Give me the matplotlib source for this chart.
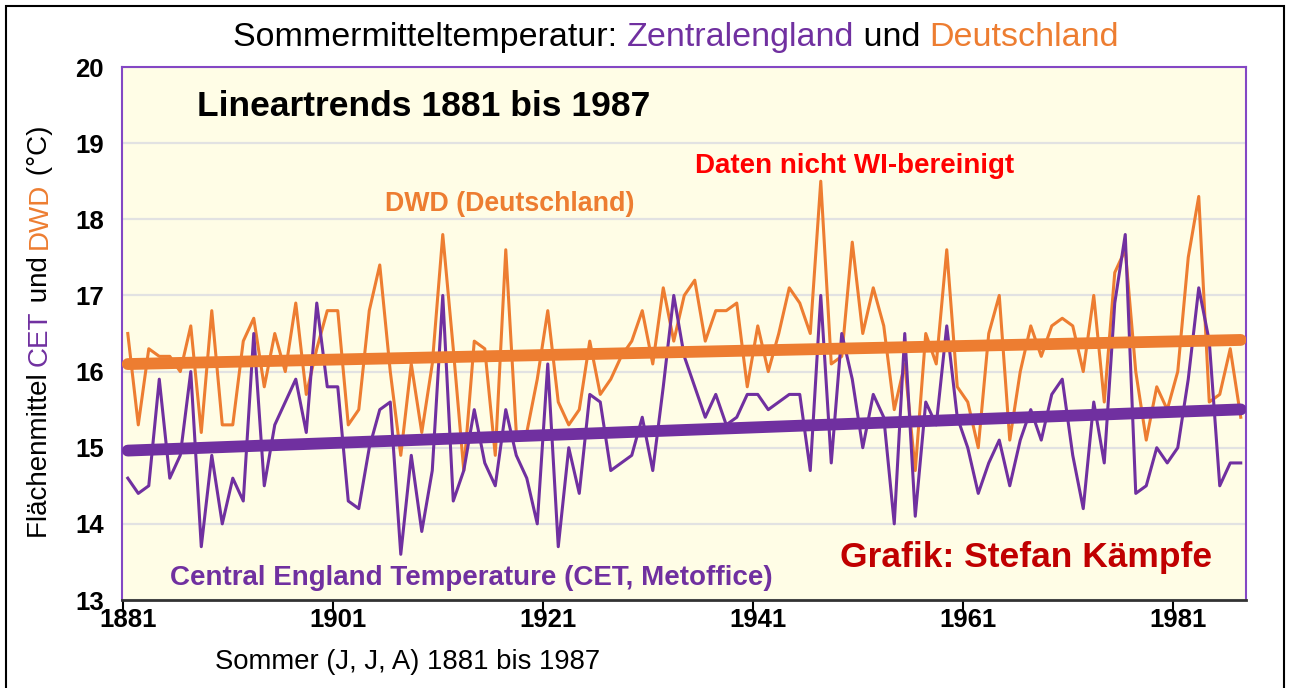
import numpy as np
import matplotlib
matplotlib.use('Agg')
import matplotlib.pyplot as plt
from matplotlib.transforms import IdentityTransform
from matplotlib.patches import Rectangle

plt.rcParams['font.family'] = ['Liberation Sans', 'DejaVu Sans']

# Sommer (JJA) 1881-1987
years = np.arange(1881, 1988)

# DWD Deutschland (°C)
dwd = [16.5, 15.3, 16.3, 16.2, 16.2, 16.0, 16.6, 15.2, 16.8, 15.3,
       15.3, 16.4, 16.7, 15.8, 16.5, 16.0, 16.9, 15.7, 16.3, 16.8,
       16.8, 15.3, 15.5, 16.8, 17.4, 16.0, 14.9, 16.1, 15.2, 16.1,
       17.8, 16.3, 14.7, 16.4, 16.3, 14.9, 17.6, 15.2, 15.2, 15.9,
       16.8, 15.6, 15.3, 15.5, 16.4, 15.7, 15.9, 16.2, 16.4, 16.8,
       16.1, 17.1, 16.4, 17.0, 17.2, 16.4, 16.8, 16.8, 16.9, 15.8,
       16.6, 16.0, 16.5, 17.1, 16.9, 16.5, 18.5, 16.1, 16.2, 17.7,
       16.5, 17.1, 16.6, 15.5, 16.1, 14.7, 16.5, 16.1, 17.6, 15.8,
       15.6, 15.0, 16.5, 17.0, 15.1, 16.0, 16.6, 16.2, 16.6, 16.7,
       16.6, 16.0, 17.0, 15.6, 17.3, 17.6, 16.0, 15.1, 15.8, 15.5,
       16.0, 17.5, 18.3, 15.6, 15.7, 16.3, 15.4]

# Central England Temperature (°C)
cet = [14.6, 14.4, 14.5, 15.9, 14.6, 14.9, 16.0, 13.7, 14.9, 14.0,
       14.6, 14.3, 16.5, 14.5, 15.3, 15.6, 15.9, 15.2, 16.9, 15.8,
       15.8, 14.3, 14.2, 15.0, 15.5, 15.6, 13.6, 14.9, 13.9, 14.7,
       17.0, 14.3, 14.7, 15.5, 14.8, 14.5, 15.5, 14.9, 14.6, 14.0,
       16.1, 13.7, 15.0, 14.4, 15.7, 15.6, 14.7, 14.8, 14.9, 15.4,
       14.7, 15.8, 17.0, 16.2, 15.8, 15.4, 15.7, 15.3, 15.4, 15.7,
       15.7, 15.5, 15.6, 15.7, 15.7, 14.7, 17.0, 14.8, 16.5, 15.9,
       15.0, 15.7, 15.4, 14.0, 16.5, 14.1, 15.6, 15.3, 16.6, 15.4,
       15.0, 14.4, 14.8, 15.1, 14.5, 15.1, 15.5, 15.1, 15.7, 15.9,
       14.9, 14.2, 15.6, 14.8, 16.9, 17.8, 14.4, 14.5, 15.0, 14.8,
       15.0, 15.9, 17.1, 16.4, 14.5, 14.8, 14.8]

tick_years = [1881, 1901, 1921, 1941, 1961, 1981]
y_ticks = [13, 14, 15, 16, 17, 18, 19, 20]

PURPLE = '#7030A0'
ORANGE = '#ED7D31'

W, H = 1290, 688
fig = plt.figure(figsize=(W / 100, H / 100), dpi=100)
fig.patch.set_facecolor('white')
ax = fig.add_axes([122 / W, 1 - 600 / H, 1124 / W, 533 / H])
ax.set_facecolor('#FFFDE6')

ax.plot(years, dwd, color=ORANGE, lw=2.2, zorder=3)
ax.plot(years, cet, color=PURPLE, lw=2.2, zorder=3)

# lineare Trends
ends = years[[0, -1]]
for vals, col in [(dwd, ORANGE), (cet, PURPLE)]:
    k = np.polyfit(years, vals, 1)
    ax.plot(ends, np.polyval(k, ends), color=col, lw=8.5,
            solid_capstyle='round', zorder=4)

ax.set_xlim(1880.45, 1987.5)
ax.set_ylim(13, 20)
ax.set_yticks(y_ticks)
ax.set_yticklabels([str(v) for v in y_ticks])
ax.set_xticks(tick_years)
ax.set_xticklabels([str(v) for v in tick_years])
ax.set_xticks([t - 0.5 for t in tick_years], minor=True)
ax.tick_params(axis='x', which='major', length=0, pad=6, labelsize=18.5)
ax.tick_params(axis='x', which='minor', length=7, width=1.5, color='black')
ax.tick_params(axis='y', length=0, pad=13, labelsize=18.5)
for lab in ax.get_xticklabels() + ax.get_yticklabels():
    lab.set_fontweight('bold')

ax.grid(axis='y', color='#E2E2E2', lw=1.6, zorder=0)
for s in ['left', 'top', 'right']:
    ax.spines[s].set_color('#8447C4')
    ax.spines[s].set_linewidth(1.5)
ax.spines['bottom'].set_color('#333333')
ax.spines['bottom'].set_linewidth(2)

# Rahmen
fig.add_artist(Rectangle((6 / W, -0.05), 1278 / W, 1.05 - 6 / H,
                         transform=fig.transFigure, fill=False,
                         edgecolor='black', lw=1.5))

renderer = fig.canvas.get_renderer()


def text_width(s, size, weight):
    t = fig.text(0, 0, s, fontsize=size, fontweight=weight)
    w = t.get_window_extent(renderer).width
    t.remove()
    return w


def colored_text(parts, cx, cy, size, weight='normal', vertical=False):
    # Text aus mehreren farbigen Stücken, mittig um (cx, cy) in Pixeln
    full = ''.join(p for p, c in parts)
    total = text_width(full, size, weight)
    bar = text_width('|', size, weight)
    prefix = ''
    for s, c in parts:
        off = text_width(prefix + '|', size, weight) - bar if prefix else 0
        if vertical:
            fig.text(cx, H - cy - total / 2 + off, s, color=c, fontsize=size,
                     fontweight=weight, rotation=90, rotation_mode='anchor',
                     ha='left', va='baseline', transform=IdentityTransform())
        else:
            fig.text(cx - total / 2 + off, H - cy, s, color=c, fontsize=size,
                     fontweight=weight, ha='left', va='baseline',
                     transform=IdentityTransform())
        prefix += s


colored_text([('Sommermitteltemperatur: ', 'black'),
              ('Zentralengland', PURPLE),
              (' und ', 'black'),
              ('Deutschland', ORANGE)], 676, 46, 24.5)

colored_text([('Flächenmittel ', 'black'),
              ('CET', PURPLE),
              (' und ', 'black'),
              ('DWD', ORANGE),
              (' (°C)', 'black')], 47, 332, 20, vertical=True)


def label(x, y, s, size, color, weight='bold'):
    fig.text(x / W, 1 - y / H, s, fontsize=size, color=color,
             fontweight=weight, ha='left', va='center')


label(197, 107, 'Lineartrends 1881 bis 1987', 25.5, 'black')
label(385, 204, 'DWD (Deutschland)', 19.3, ORANGE)
label(695, 166, 'Daten nicht WI-bereinigt', 20, '#FF0000')
label(170, 578, 'Central England Temperature (CET, Metoffice)', 20, PURPLE)
label(840, 557, 'Grafik: Stefan Kämpfe', 25.5, '#C00000')
label(215, 662, 'Sommer (J, J, A) 1881 bis 1987', 19.8, 'black', weight='normal')

fig.savefig('out.png', dpi=100)
